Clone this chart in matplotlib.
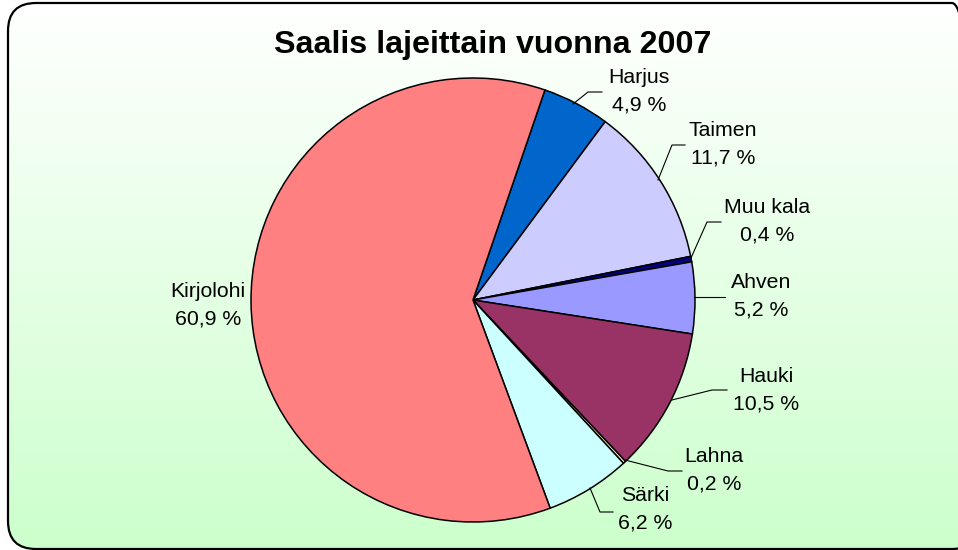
import matplotlib
matplotlib.use("Agg")
import matplotlib.pyplot as plt
import numpy as np
from matplotlib.patches import FancyBboxPatch
from matplotlib.colors import LinearSegmentedColormap

# DATA
lajit = ["Harjus", "Taimen", "Muu kala", "Ahven", "Hauki", "Lahna", "Särki", "Kirjolohi"]
osuudet = [4.9, 11.7, 0.4, 5.2, 10.5, 0.2, 6.2, 60.9]
varit = ["#0066CC", "#CCCCFF", "#000080", "#9999FF", "#993366", "#FFFFCC", "#CCFFFF", "#FF8080"]
otsikko = "Saalis lajeittain vuonna 2007"

W, H = 958, 550
plt.rcParams['font.family'] = ['Liberation Sans', 'DejaVu Sans']
plt.rcParams['savefig.bbox'] = 'standard'

fig = plt.figure(figsize=(W / 100, H / 100), dpi=100)
ax = fig.add_axes([0, 0, 1, 1])

# piirakka
cx, cy, r = 473, 250, 222
wedges, _ = ax.pie(osuudet, colors=varit, startangle=71.1, counterclock=False,
                   center=(cx, cy), radius=r,
                   wedgeprops=dict(edgecolor='black', linewidth=1.1))
for w in wedges:
    w.set_zorder(3)
ax.set_aspect('auto')
ax.set_xlim(0, W)
ax.set_ylim(0, H)
ax.set_axis_off()

# tausta: pyöristetty kehys + liukuväri (oikea reuna jää kuvan ulkopuolelle)
kehys = FancyBboxPatch((8, 1), 972, 546, boxstyle="round,pad=0,rounding_size=28",
                       facecolor='none', edgecolor='black', linewidth=1.6, zorder=2)
ax.add_patch(kehys)
cmap = LinearSegmentedColormap.from_list("bg", ["#CCFFCC", "#FFFFFF"])
grad = np.linspace(0, 1, 256).reshape(-1, 1)
img = ax.imshow(grad, cmap=cmap, extent=(8, 980, 1, 547), origin='lower',
                aspect='auto', zorder=1, interpolation='bilinear')
img.set_clip_path(kehys)
ax.set_xlim(0, W)
ax.set_ylim(0, H)

# otsikko
ax.text(493, 505, otsikko, ha='center', va='center', fontsize=23.2,
        fontweight='bold', zorder=5)

# selitteet (nimi, arvo) ja johtoviivat
paikat = [(639, 459), (723, 406), (767, 329), (761, 254),
          (766, 160), (714, 80), (645, 41), (208, 245)]
viivat = [
    [(573, 446), (588, 458), (602, 458)],
    [(658, 370), (672, 405), (685, 405)],
    [(691, 292), (707, 328), (721, 328)],
    [(694, 253), (725, 253)],
    [(672, 150), (712, 160), (727, 160)],
    [(625, 90), (668, 79), (682, 79)],
    [(590, 62), (600, 38), (613, 38)],
    None,
]
for nimi, arvo, (tx, ty), viiva in zip(lajit, osuudet, paikat, viivat):
    teksti = nimi + "\n" + f"{arvo:.1f}".replace(".", ",") + " %"
    ax.text(tx, ty, teksti, ha='center', va='center', fontsize=15.3,
            linespacing=1.55, zorder=5)
    if viiva:
        xs, ys = zip(*viiva)
        ax.plot(xs, ys, color='black', linewidth=0.8, zorder=4)

fig.savefig("out.png", dpi=100)
